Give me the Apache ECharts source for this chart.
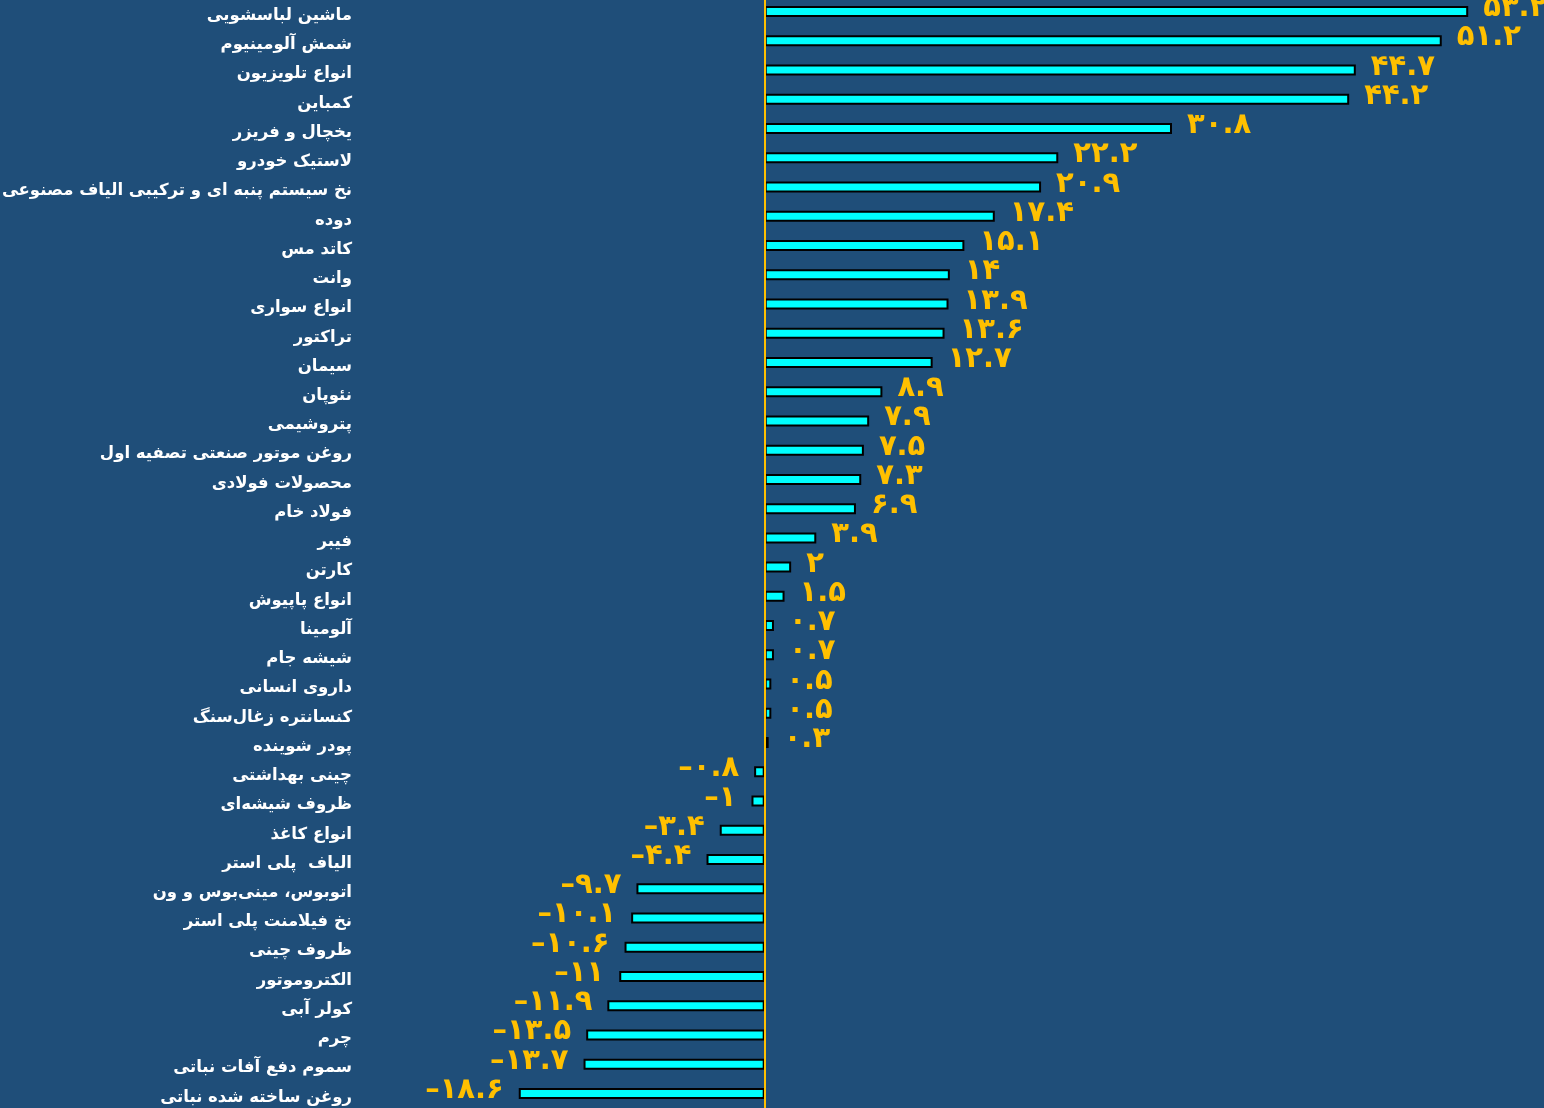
<!DOCTYPE html>
<html>
<head>
<meta charset="utf-8">
<script src="https://cdn.jsdelivr.net/npm/echarts@6/dist/echarts.min.js"></script>
<style>
html,body{margin:0;padding:0;background:#1F4E79;}
#chart{width:1544px;height:1108px;}
</style>
</head>
<body>
<div id="chart"></div>
<script>
const categories = [
  "ماشین لباسشویی",
  "شمش آلومینیوم",
  "انواع تلویزیون",
  "کمباین",
  "یخچال و فریزر",
  "لاستیک خودرو",
  "نخ سیستم پنبه ای و ترکیبی الیاف مصنوعی",
  "دوده",
  "کاتد مس",
  "وانت",
  "انواع سواری",
  "تراکتور",
  "سیمان",
  "نئوپان",
  "پتروشیمی",
  "روغن موتور صنعتی تصفیه اول",
  "محصولات فولادی",
  "فولاد خام",
  "فیبر",
  "کارتن",
  "انواع پاپیوش",
  "آلومینا",
  "شیشه جام",
  "داروی انسانی",
  "کنسانتره زغال‌سنگ",
  "پودر شوینده",
  "چینی بهداشتی",
  "ظروف شیشه‌ای",
  "انواع کاغذ",
  "الیاف  پلی استر",
  "اتوبوس، مینی‌بوس و ون",
  "نخ فیلامنت پلی استر",
  "ظروف چینی",
  "الکتروموتور",
  "کولر آبی",
  "چرم",
  "سموم دفع آفات نباتی",
  "روغن ساخته شده نباتی"
];
const values = [
  53.2, 51.2, 44.7, 44.2, 30.8, 22.2, 20.9, 17.4, 15.1, 14, 13.9, 13.6, 12.7,
  8.9, 7.9, 7.5, 7.3, 6.9, 3.9, 2, 1.5, 0.7, 0.7, 0.5, 0.5, 0.3,
  -0.8, -1, -3.4, -4.4, -9.7, -10.1, -10.6, -11, -11.9, -13.5, -13.7, -18.6
];
const xMin = -30;
const xMax = 55;

const faDigits = '۰۱۲۳۴۵۶۷۸۹';
function toFa(v){
  const s = String(Math.abs(v)).replace(/[0-9]/g, d => faDigits[+d]);
  return (v < 0 ? '–' : '') + s;
}

const chart = echarts.init(document.getElementById('chart'), null, {renderer:'canvas'});
chart.setOption({
  backgroundColor: '#1F4E79',
  animation: false,
  grid: {left: 368, right: 52, top: -3, bottom: 0, containLabel: false, outerBoundsMode: 'none'},
  xAxis: {
    type: 'value', min: xMin, max: xMax, show: false,
    splitLine: {show: false}
  },
  yAxis: {
    type: 'category', data: categories, inverse: true,
    axisLine: {show: false}, axisTick: {show: false},
    axisLabel: {
      color: '#FFFFFF', fontSize: 16.5, fontWeight: 'bold',
      fontFamily: 'DejaVu Sans', margin: 16,
      verticalAlign: 'top', lineHeight: 8
    }
  },
  series: [{
    type: 'bar',
    barWidth: 11,
    itemStyle: {color: '#00FFFF', borderColor: '#000000', borderWidth: 2},
    data: values.map(v => ({
      value: v,
      label: {position: v < 0 ? 'left' : 'right'}
    })),
    label: {
      show: true,
      distance: 15,
      offset: [0, -3],
      color: '#FFC000',
      fontSize: 29,
      fontWeight: 'bold',
      fontFamily: 'DejaVu Sans',
      formatter: p => toFa(p.value)
    },
    markLine: {
      silent: true,
      symbol: 'none',
      label: {show: false},
      lineStyle: {color: '#FFC000', width: 2, type: 'solid'},
      data: [{xAxis: 0}]
    }
  }]
});
</script>
</body>
</html>
